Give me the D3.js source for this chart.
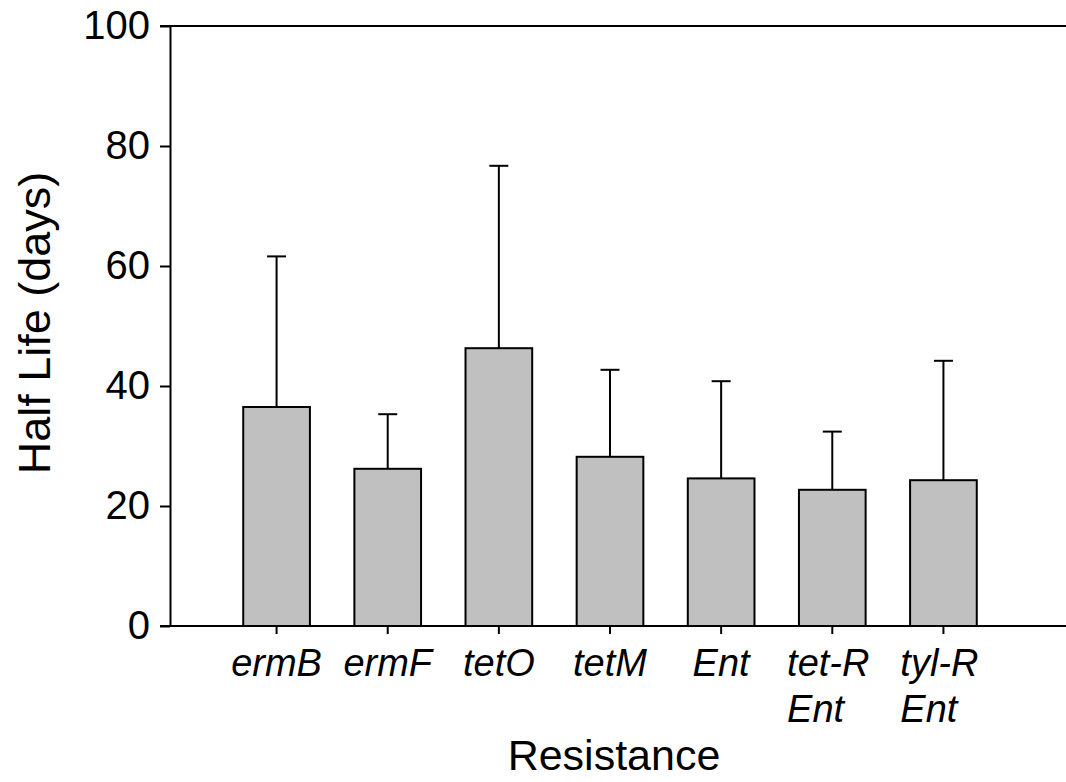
<!DOCTYPE html>
<html>
<head>
<meta charset="utf-8">
<script src="https://cdn.jsdelivr.net/npm/d3@7"></script>
<style>
  body { margin: 0; background: #fff; }
  svg { display: block; font-family: "Liberation Sans", Arial, sans-serif; }
</style>
</head>
<body>
<div id="chart"></div>
<script>
const categories = [["ermB"], ["ermF"], ["tetO"], ["tetM"], ["Ent"], ["tet-R", "Ent"], ["tyl-R", "Ent"]];
const halfLife = [36.5, 26.2, 46.3, 28.2, 24.6, 22.7, 24.3];
const errUp = [25.1, 9.1, 30.4, 14.5, 16.2, 9.7, 19.9];
const yTicks = [0, 20, 40, 60, 80, 100];

const width = 1066, height = 782;

const svg = d3.select("#chart").append("svg")
  .attr("width", width)
  .attr("height", height);

const keys = categories.map(c => c.join(" "));

const x = d3.scaleBand()
  .domain(keys)
  .range([221, 999])
  .paddingInner(0.4)
  .paddingOuter(0.2);

const y = d3.scaleLinear().domain([0, 100]).range([626, 26]);

// y axis
const yAxis = svg.append("g")
  .attr("transform", "translate(170,0)")
  .call(d3.axisLeft(y).tickValues(yTicks).tickSize(10).tickSizeOuter(0).tickPadding(10));
yAxis.selectAll("text").attr("font-size", 40).attr("font-family", "Liberation Sans, Arial").attr("fill", "#000");
yAxis.selectAll("line, path").attr("stroke", "#000").attr("stroke-width", 2);

// top frame line
svg.append("line")
  .attr("x1", 160).attr("x2", width)
  .attr("y1", y(100)).attr("y2", y(100))
  .attr("stroke", "#000").attr("stroke-width", 2);

// bars
svg.append("g").selectAll("rect")
  .data(halfLife)
  .join("rect")
  .attr("x", (d, i) => x(keys[i]))
  .attr("y", d => y(d))
  .attr("width", x.bandwidth())
  .attr("height", d => y(0) - y(d))
  .attr("fill", "#c0c0c0")
  .attr("stroke", "#000")
  .attr("stroke-width", 2);

// error bars (upper only)
const eb = svg.append("g").attr("stroke", "#000").attr("stroke-width", 2);
halfLife.forEach((d, i) => {
  const cx = x(keys[i]) + x.bandwidth() / 2;
  eb.append("line").attr("x1", cx).attr("x2", cx).attr("y1", y(d)).attr("y2", y(d + errUp[i]));
  eb.append("line").attr("x1", cx - 9.5).attr("x2", cx + 9.5).attr("y1", y(d + errUp[i])).attr("y2", y(d + errUp[i]));
});

// x axis
const xAxis = svg.append("g")
  .attr("transform", `translate(0,${y(0)})`)
  .call(d3.axisBottom(x).tickSize(8).tickSizeOuter(0).tickFormat(""));
xAxis.select(".domain").remove();
xAxis.selectAll("line").attr("stroke", "#000").attr("stroke-width", 2);
svg.append("line")
  .attr("x1", 160).attr("x2", width)
  .attr("y1", y(0)).attr("y2", y(0))
  .attr("stroke", "#000").attr("stroke-width", 2);

// category labels
categories.forEach((lines, i) => {
  const cx = x(keys[i]) + x.bandwidth() / 2;
  const t = svg.append("text")
    .attr("font-size", 38)
    .attr("font-style", "italic")
    .attr("fill", "#000");
  lines.forEach((s, j) => {
    t.append("tspan").attr("x", cx).attr("y", 676 + j * 46).text(s);
  });
  if (lines.length === 1) {
    t.attr("text-anchor", "middle");
  } else {
    const w = d3.max(t.selectAll("tspan").nodes(), n => n.getComputedTextLength());
    t.selectAll("tspan").attr("x", cx - 4 - w / 2);
  }
});

// axis titles
svg.append("text")
  .attr("transform", "translate(50,323) rotate(-90)")
  .attr("text-anchor", "middle")
  .attr("font-size", 45)
  .text("Half Life (days)");

svg.append("text")
  .attr("x", 614).attr("y", 770)
  .attr("text-anchor", "middle")
  .attr("font-size", 43)
  .text("Resistance");
</script>
</body>
</html>
